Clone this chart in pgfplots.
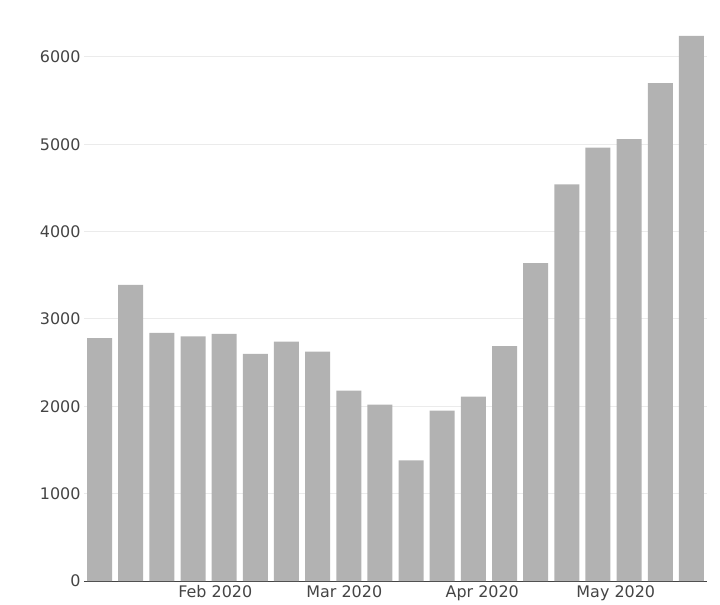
\documentclass[border=0pt]{standalone}
\usepackage{fontspec}
\setmainfont{DejaVu Sans}
\usepackage{pgfplots}
\pgfplotsset{compat=1.18}
\definecolor{bargray}{HTML}{B2B2B2}
\definecolor{ticktext}{HTML}{444444}
\definecolor{gridc}{HTML}{EBEBEB}
\begin{document}
\begin{tikzpicture}
\begin{axis}[
  scale only axis, width=623bp, height=573bp,
  xmin=1.5, xmax=141.5, ymin=0, ymax=6560,
  axis x line*=bottom, axis y line*=left,
  y axis line style={draw=none},
  x axis line style={-, draw=ticktext, line width=1pt},
  xtick={31,60,91,121},
  xticklabels={Feb 2020, Mar 2020, Apr 2020, May 2020},
  ytick={0,1000,2000,3000,4000,5000,6000},
  major tick length=0pt,
  tick style={draw=none},
  ymajorgrids, grid style={gridc, line width=1pt},
  tick label style={font=\fontsize{16}{19}\selectfont, text=ticktext},
  /pgf/number format/assume math mode=true,
  /pgf/number format/1000 sep={},
  xticklabel style={yshift=-1bp},
  ybar, bar width=25bp,
  axis on top=false,
]
\addplot[fill=bargray, draw=none] coordinates {
(5,2780) (12,3390) (19,2840) (26,2800) (33,2830) (40,2600) (47,2740) (54,2625)
(61,2180) (68,2020) (75,1380) (82,1950) (89,2110) (96,2690) (103,3640) (110,4540)
(117,4960) (124,5060) (131,5700) (138,6240)
};
\end{axis}
\pgfresetboundingbox
\path[use as bounding box] ([xshift=-84bp,yshift=-24bp]current axis.south west) rectangle ([xshift=13bp,yshift=8bp]current axis.north east);
\end{tikzpicture}
\end{document}
